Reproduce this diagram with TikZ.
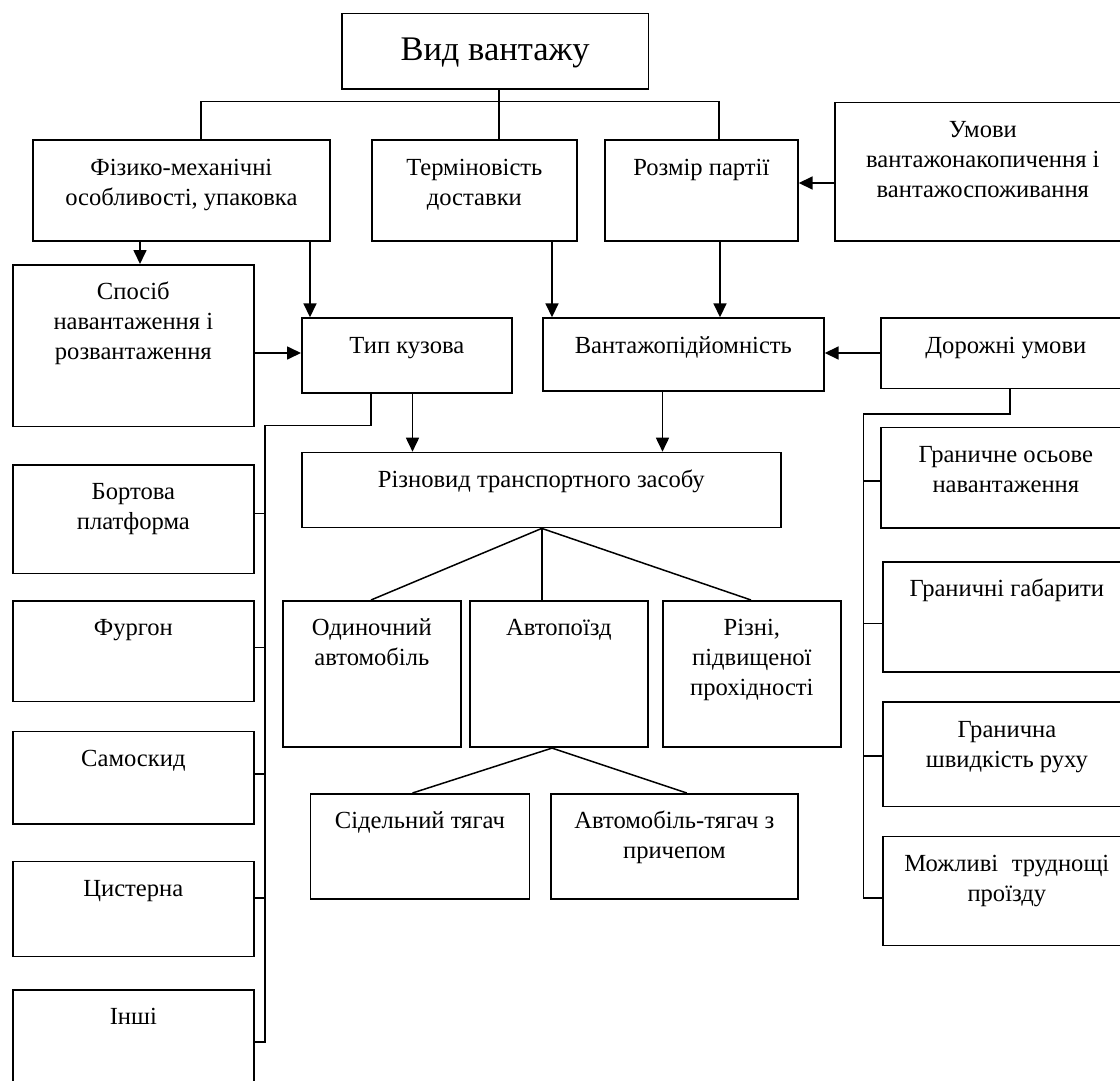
\documentclass[tikz,border=0pt]{standalone}
\usepackage{fontspec}
\setmainfont{Liberation Serif}
\usetikzlibrary{arrows.meta}
\newcommand\bx[6]{\node[box, anchor=north west] (#1) at (#2,#3) {\parbox[t][#5pt][t]{#4pt}{\centering\rule{0pt}{35pt}#6}};}
\begin{document}
\begin{tikzpicture}[x=1pt,y=-1pt,
  box/.style={draw, line width=1.7pt, inner sep=0pt, font=\fontsize{24.6}{30}\selectfont},
  con/.style={line width=1.5pt},
  arr/.style={line width=1.7pt, -{Triangle[length=14pt,width=13pt]}}]
\useasboundingbox (0,0) rectangle (1120,1081);
\clip (0,0) rectangle (1120,1081);
\node[draw, line width=1.7pt, inner sep=0pt, anchor=north west, font=\fontsize{34.5}{40}\selectfont] (top) at (341,12.7) {\parbox[t][75.6pt][t]{306.5pt}{\centering\rule{0pt}{46.6pt}Вид вантажу}};
\bx{fiz}{32}{139.3}{297}{100.7}{Фізико-механічні\\особливості, упаковка}
\bx{term}{371}{139.3}{205}{100.7}{Терміновість\\доставки}
\bx{rozmir}{604}{139.3}{193}{100.7}{Розмір партії}
\bx{umovy}{834}{101.7}{296}{138.3}{Умови\\вантажонакопичення і\\вантажоспоживання}
\bx{sposib}{12}{264}{241}{161.7}{Спосіб\\навантаження і\\розвантаження}
\bx{typ}{301}{317.3}{210}{75}{Тип кузова}
\bx{vantazh}{542}{317.3}{281}{72.7}{Вантажопідйомність}
\bx{dor}{880}{317.3}{250}{70.4}{Дорожні умови}
\bx{riz}{301}{451.7}{479}{75}{Різновид транспортного засобу}
\bx{bort}{12}{464}{241}{108.7}{Бортова\\платформа}
\bx{furg}{12}{600}{241}{100.7}{Фургон}
\bx{samo}{12}{730.5}{241}{92.5}{Самоскид}
\bx{tsys}{12}{860.5}{241}{95.2}{Цистерна}
\bx{inshi}{12}{989}{241}{120}{Інші}
\bx{odyn}{282}{600}{178}{146.4}{Одиночний\\автомобіль}
\bx{avtop}{469}{600}{178}{146.4}{Автопоїзд}
\bx{rizni}{662}{600}{178}{146.4}{Різні,\\підвищеної\\прохідності}
\bx{sidel}{309.6}{793}{219}{105}{Сідельний тягач}
\bx{avtyag}{550}{793}{247}{105}{Автомобіль-тягач з\\причепом}
\bx{gran}{880}{426.7}{250}{100.3}{Граничне осьове\\навантаження}
\bx{gab}{882}{560.8}{248}{110}{Граничні габарити}
\bx{shv}{882}{701.4}{248}{104.3}{Гранична\\швидкість руху}
\bx{mozh}{882}{835.5}{248}{109}{Можливі\hspace{0.55em}труднощі\\проїзду}
% top tree
\draw[con] (top.south -| 499,0) -- (term.north -| 499,0);
\draw[con] (fiz.north -| 201,0) -- (201,101.7) -- (719,101.7) -- (rozmir.north -| 719,0);
% arrows
\draw[arr] (fiz.south -| 140,0) -- (sposib.north -| 140,0);
\draw[arr] (fiz.south -| 310,0) -- (typ.north -| 310,0);
\draw[arr] (term.south -| 552,0) -- (vantazh.north -| 552,0);
\draw[arr] (rozmir.south -| 720,0) -- (vantazh.north -| 720,0);
\draw[arr] (umovy.west |- 0,183) -- (rozmir.east |- 0,183);
\draw[arr] (sposib.east |- 0,353) -- (typ.west |- 0,353);
\draw[arr] (dor.west |- 0,353) -- (vantazh.east |- 0,353);
\draw[arr] (typ.south -| 412.5,0) -- (riz.north -| 412.5,0);
\draw[arr] (vantazh.south -| 662.5,0) -- (riz.north -| 662.5,0);
% left bracket
\draw[con] (typ.south -| 371,0) -- (371,425.7) -- (265,425.7) -- (265,1042) -- (inshi.east |- 0,1042);
\draw[con] (bort.east |- 0,513.3) -- (265,513.3);
\draw[con] (furg.east |- 0,647.5) -- (265,647.5);
\draw[con] (samo.east |- 0,773.8) -- (265,773.8);
\draw[con] (tsys.east |- 0,898) -- (265,898);
% right bracket
\draw[con] (dor.south -| 1010,0) -- (1010,414) -- (863.6,414) -- (863.6,898) -- (mozh.west |- 0,898);
\draw[con] (gran.west |- 0,481) -- (863.6,481);
\draw[con] (gab.west |- 0,623.5) -- (863.6,623.5);
\draw[con] (shv.west |- 0,755.9) -- (863.6,755.9);
% vehicle tree
\draw[con] (riz.south -| 541.8,0) -- (odyn.north -| 371,0);
\draw[con] (riz.south -| 541.8,0) -- (avtop.north -| 541.8,0);
\draw[con] (riz.south -| 541.8,0) -- (rizni.north -| 751,0);
\draw[con] (avtop.south -| 552,0) -- (sidel.north -| 412.5,0);
\draw[con] (avtop.south -| 552,0) -- (avtyag.north -| 686.8,0);
\end{tikzpicture}
\end{document}
